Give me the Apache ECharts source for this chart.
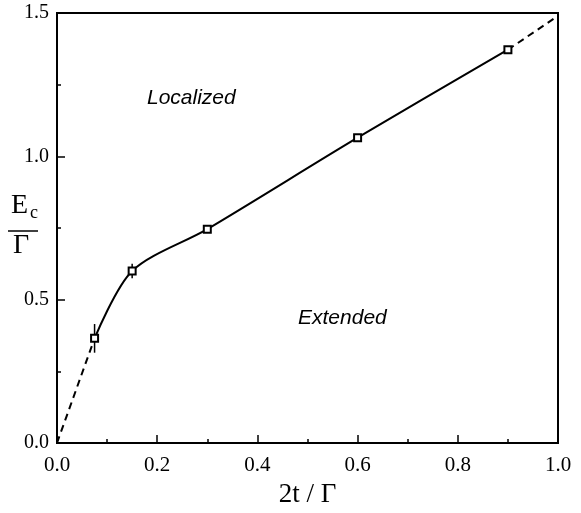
<!DOCTYPE html>
<html>
<head>
<meta charset="utf-8">
<script src="https://cdn.jsdelivr.net/npm/echarts@6/dist/echarts.min.js"></script>
<style>
  html, body { margin: 0; padding: 0; background: #fff; }
  #chart { width: 581px; height: 513px; }
</style>
</head>
<body>
<div id="chart"></div>
<script>
// measured points (2t/Γ, Ec/Γ) with error half-widths
const tValues = [0.075, 0.15, 0.3, 0.6, 0.9];
const ecValues = [0.365, 0.6, 0.746, 1.065, 1.372];
const ecErrors = [0.05, 0.025, 0.008, 0.008, 0.008];
// dashed extrapolations
const lowDash = [[0, 0], [0.075, 0.365]];
const highDash = [[0.9, 1.372], [1.0, 1.49]];

const points = tValues.map((t, i) => [t, ecValues[i]]);
const errBars = tValues.map((t, i) => [t, ecValues[i] - ecErrors[i], ecValues[i] + ecErrors[i]]);

const serif = 'Liberation Serif, DejaVu Serif, serif';
const sans = 'Liberation Sans, Arial, sans-serif';

const chart = echarts.init(document.getElementById('chart'));

chart.setOption({
  animation: false,
  grid: {
    left: 57, right: 23, top: 13, bottom: 67,
    show: true, borderColor: '#000', borderWidth: 2, backgroundColor: 'transparent'
  },
  xAxis: {
    type: 'value', min: 0, max: 1, interval: 0.2,
    name: '2t / Γ', nameLocation: 'middle', nameGap: 38,
    nameTextStyle: { fontFamily: serif, fontSize: 27, color: '#000', verticalAlign: 'top' },
    axisLine: { lineStyle: { color: '#000', width: 2 } },
    axisTick: { inside: true, length: 8, lineStyle: { color: '#000', width: 1.5 } },
    minorTick: { show: true, splitNumber: 2, length: 4, lineStyle: { color: '#000', width: 1.5 } },
    axisLabel: { fontFamily: serif, fontSize: 21, color: '#000', margin: 12,
      formatter: v => v.toFixed(1) },
    splitLine: { show: false }
  },
  yAxis: {
    type: 'value', min: 0, max: 1.5, interval: 0.5,
    axisLine: { lineStyle: { color: '#000', width: 2 } },
    axisTick: { inside: true, length: 8, lineStyle: { color: '#000', width: 1.5 } },
    minorTick: { show: true, splitNumber: 2, length: 4, lineStyle: { color: '#000', width: 1.5 } },
    axisLabel: { fontFamily: serif, fontSize: 20, color: '#000', margin: 8,
      formatter: v => v.toFixed(1) },
    splitLine: { show: false }
  },
  graphic: [
    { type: 'text', left: 11, top: 192,
      style: { text: 'E', font: '28px ' + serif, fill: '#000' } },
    { type: 'text', left: 30, top: 204,
      style: { text: 'c', font: '18px ' + serif, fill: '#000' } },
    { type: 'line', shape: { x1: 8, y1: 231, x2: 38, y2: 231 },
      style: { stroke: '#000', lineWidth: 1.5 } },
    { type: 'text', left: 13, top: 232,
      style: { text: 'Γ', font: '28px ' + serif, fill: '#000' } },
    { type: 'text', left: 147, top: 88,
      style: { text: 'Localized', font: 'italic 21px ' + sans, fill: '#000' } },
    { type: 'text', left: 298, top: 308,
      style: { text: 'Extended', font: 'italic 21px ' + sans, fill: '#000' } }
  ],
  series: [
    {
      type: 'line', data: points, smooth: 0.3,
      symbol: 'emptyRect', symbolSize: 7,
      lineStyle: { color: '#000', width: 2 },
      itemStyle: { color: '#000', borderColor: '#000', borderWidth: 2 }
    },
    {
      type: 'line', data: lowDash, symbol: 'none',
      lineStyle: { color: '#000', width: 2, type: [7, 5] }
    },
    {
      type: 'line', data: highDash, symbol: 'none',
      lineStyle: { color: '#000', width: 2, type: [7, 5] }
    },
    {
      type: 'custom', data: errBars,
      renderItem: (params, api) => {
        const lo = api.coord([api.value(0), api.value(1)]);
        const hi = api.coord([api.value(0), api.value(2)]);
        return {
          type: 'line',
          shape: { x1: lo[0], y1: lo[1], x2: hi[0], y2: hi[1] },
          style: { stroke: '#000', lineWidth: 1.5 }
        };
      }
    }
  ]
});
</script>
</body>
</html>
